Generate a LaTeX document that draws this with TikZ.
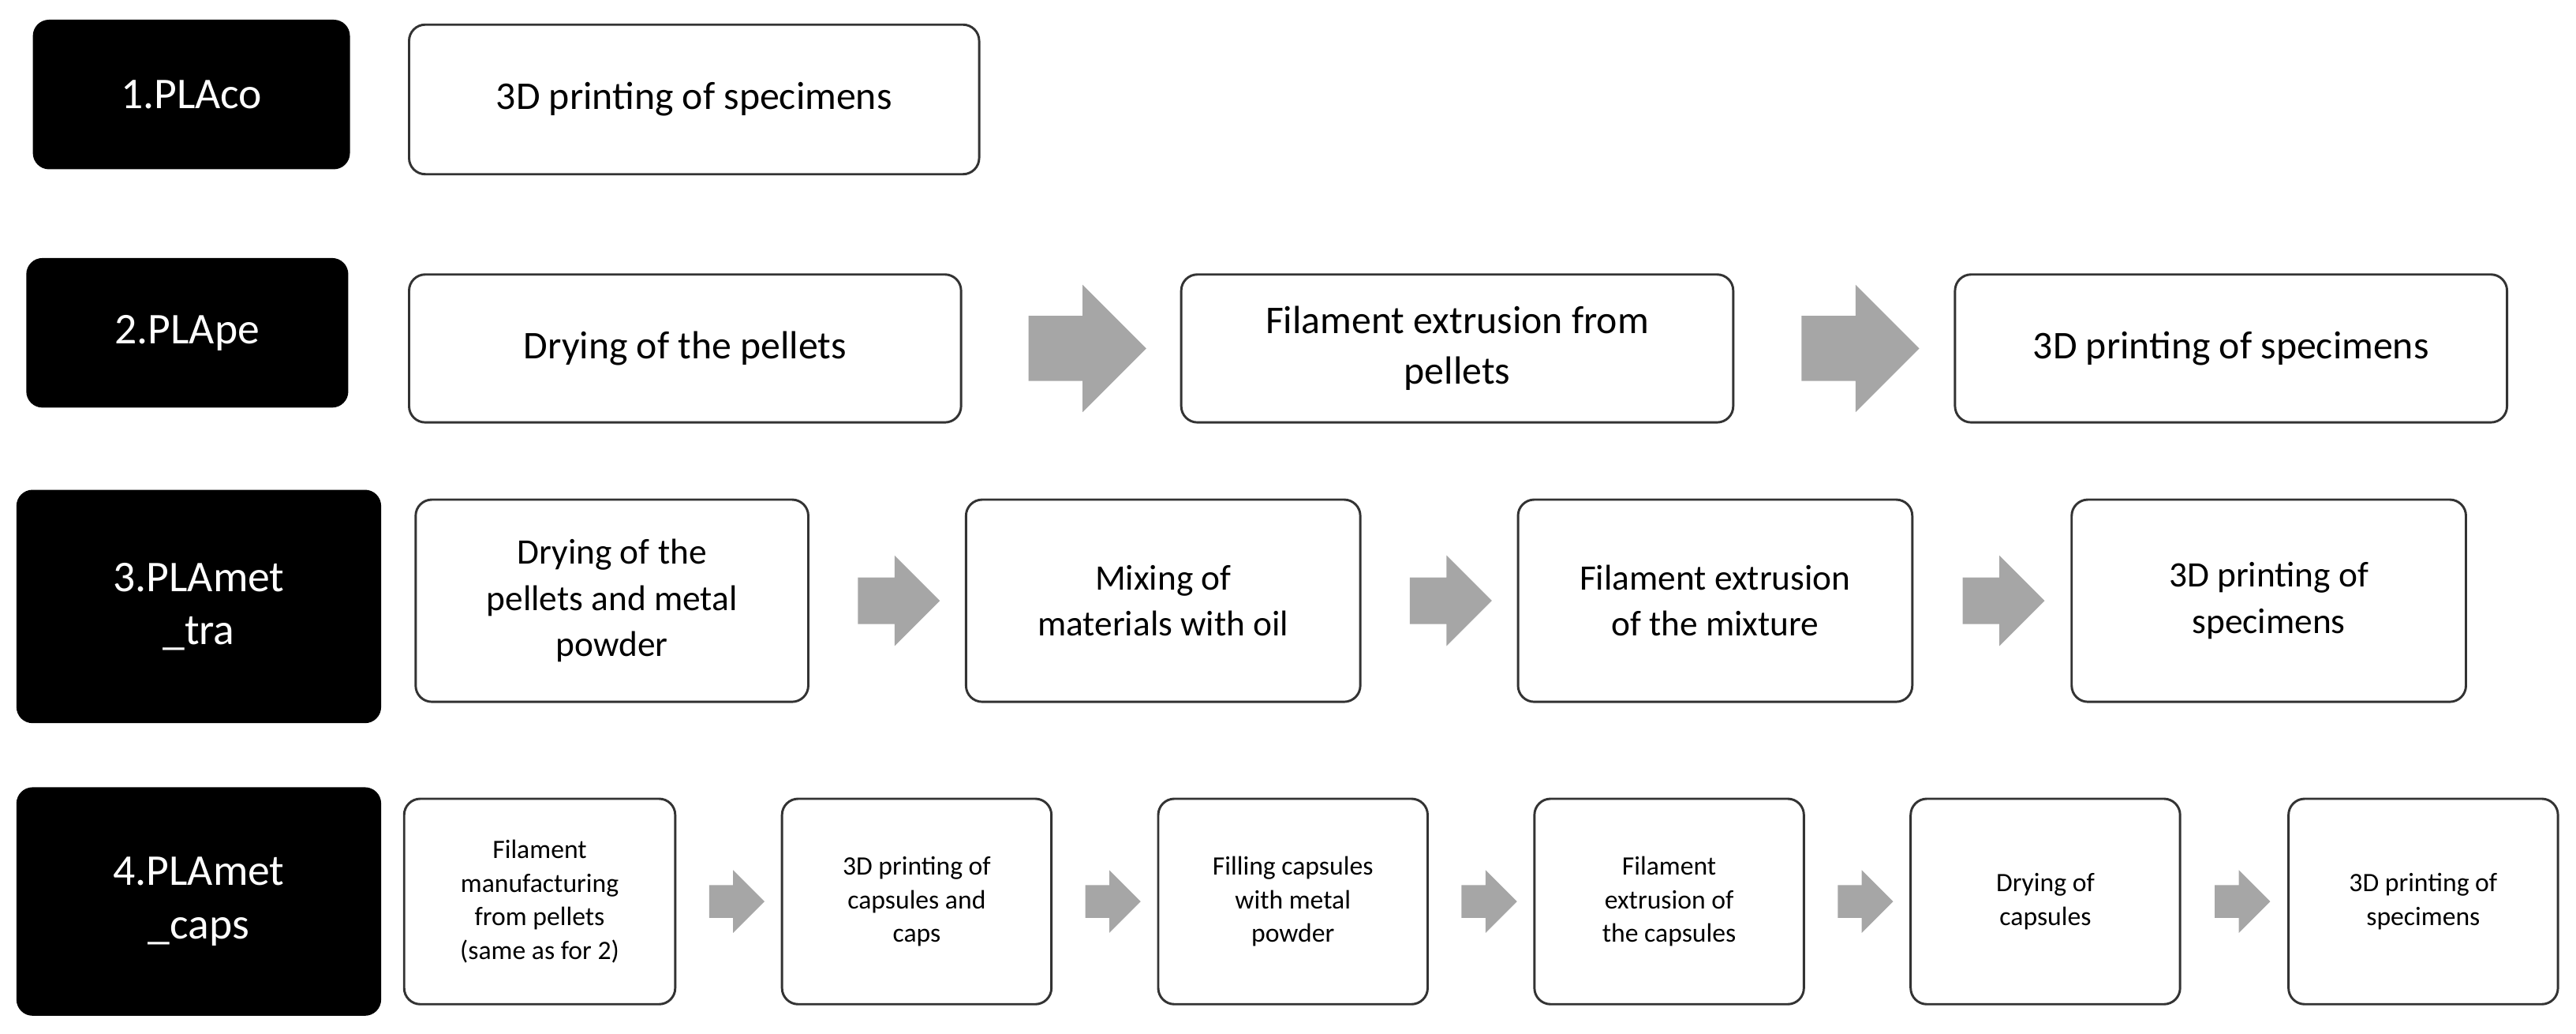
\documentclass[tikz,border=0pt]{standalone}
\usepackage{fontspec}
\setmainfont{Carlito}
\usetikzlibrary{shapes.arrows,calc}

\tikzset{
  lbl/.style={rectangle,rounded corners=14pt,fill=black,text=white,align=center,font=\fontsize{38}{46}\selectfont},
  box/.style={rectangle,rounded corners=14pt,draw=black!80,line width=2pt,fill=white,align=center},
  big/.style={box,font=\fontsize{34}{44}\selectfont},
  mid/.style={box,font=\fontsize{31}{40}\selectfont},
  small/.style={box,font=\fontsize{23}{29}\selectfont},
  blk/.style={single arrow,fill=black!35,draw=none,inner xsep=0pt}
}

\begin{document}
\begin{tikzpicture}[x=0.05cm,y=-0.05cm]
        \useasboundingbox (0,0) rectangle (1568,629);

        % row 1
        \node[lbl,minimum width=193*0.05cm,minimum height=91*0.05cm] (l1) at (116.5,57.5) {1.PLAco};
        \node[big,minimum width=347*0.05cm,minimum height=91*0.05cm] (a1) at (422.5,60.5) {3D printing of specimens};

        % row 2
        \node[lbl,minimum width=196*0.05cm,minimum height=91*0.05cm] (l2) at (114,202.5) {2.PLApe};
        \node[big,minimum width=336*0.05cm,minimum height=90*0.05cm] (b1) at (417,212) {Drying of the pellets};
        \node[big,minimum width=336*0.05cm,minimum height=90*0.05cm] (b2) at (887,212) {Filament extrusion from\\pellets};
        \node[big,minimum width=336*0.05cm,minimum height=90*0.05cm] (b3) at (1358,212) {3D printing of specimens};
        \foreach \i/\j in {b1/b2,b2/b3}
          \node[blk,minimum height=102pt,inner ysep=28pt,single arrow head extend=27pt] at ($(\i.east)!0.5!(\j.west)$) {};

        % row 3
        \node[lbl,minimum width=222*0.05cm,minimum height=142*0.05cm] (l3) at (121,369) {3.PLAmet\\\_tra};
        \node[mid,minimum width=239*0.05cm,minimum height=123*0.05cm] (c1) at (372.5,365.5) {Drying of the\\pellets and metal\\powder};
        \node[mid,minimum width=240*0.05cm,minimum height=123*0.05cm] (c2) at (708,365.5) {Mixing of\\materials with oil};
        \node[mid,minimum width=240*0.05cm,minimum height=123*0.05cm] (c3) at (1044,365.5) {Filament extrusion\\of the mixture};
        \node[mid,minimum width=240*0.05cm,minimum height=123*0.05cm] (c4) at (1381,365.5) {3D printing of\\specimens};
        \foreach \i/\j in {c1/c2,c2/c3,c3/c4}
          \node[blk,minimum height=71pt,inner ysep=20pt,single arrow head extend=19pt] at ($(\i.east)!0.5!(\j.west)$) {};

        % row 4
        \node[lbl,minimum width=222*0.05cm,minimum height=139*0.05cm] (l4) at (121,548.5) {4.PLAmet\\\_caps};
        \node[small,minimum width=165*0.05cm,minimum height=125*0.05cm] (d1) at (328.5,548.5) {Filament\\manufacturing\\from pellets\\(same as for 2)};
        \node[small,minimum width=164*0.05cm,minimum height=125*0.05cm] (d2) at (558,548.5) {3D printing of\\capsules and\\caps};
        \node[small,minimum width=164*0.05cm,minimum height=125*0.05cm] (d3) at (787,548.5) {Filling capsules\\with metal\\powder};
        \node[small,minimum width=164*0.05cm,minimum height=125*0.05cm] (d4) at (1016,548.5) {Filament\\extrusion of\\the capsules};
        \node[small,minimum width=164*0.05cm,minimum height=125*0.05cm] (d5) at (1245,548.5) {Drying of\\capsules};
        \node[small,minimum width=164*0.05cm,minimum height=125*0.05cm] (d6) at (1475,548.5) {3D printing of\\specimens};
        \foreach \i/\j in {d1/d2,d2/d3,d3/d4,d4/d5,d5/d6}
          \node[blk,minimum height=48pt,inner ysep=14pt,single arrow head extend=13pt] at ($(\i.east)!0.5!(\j.west)$) {};
\end{tikzpicture}
\end{document}
